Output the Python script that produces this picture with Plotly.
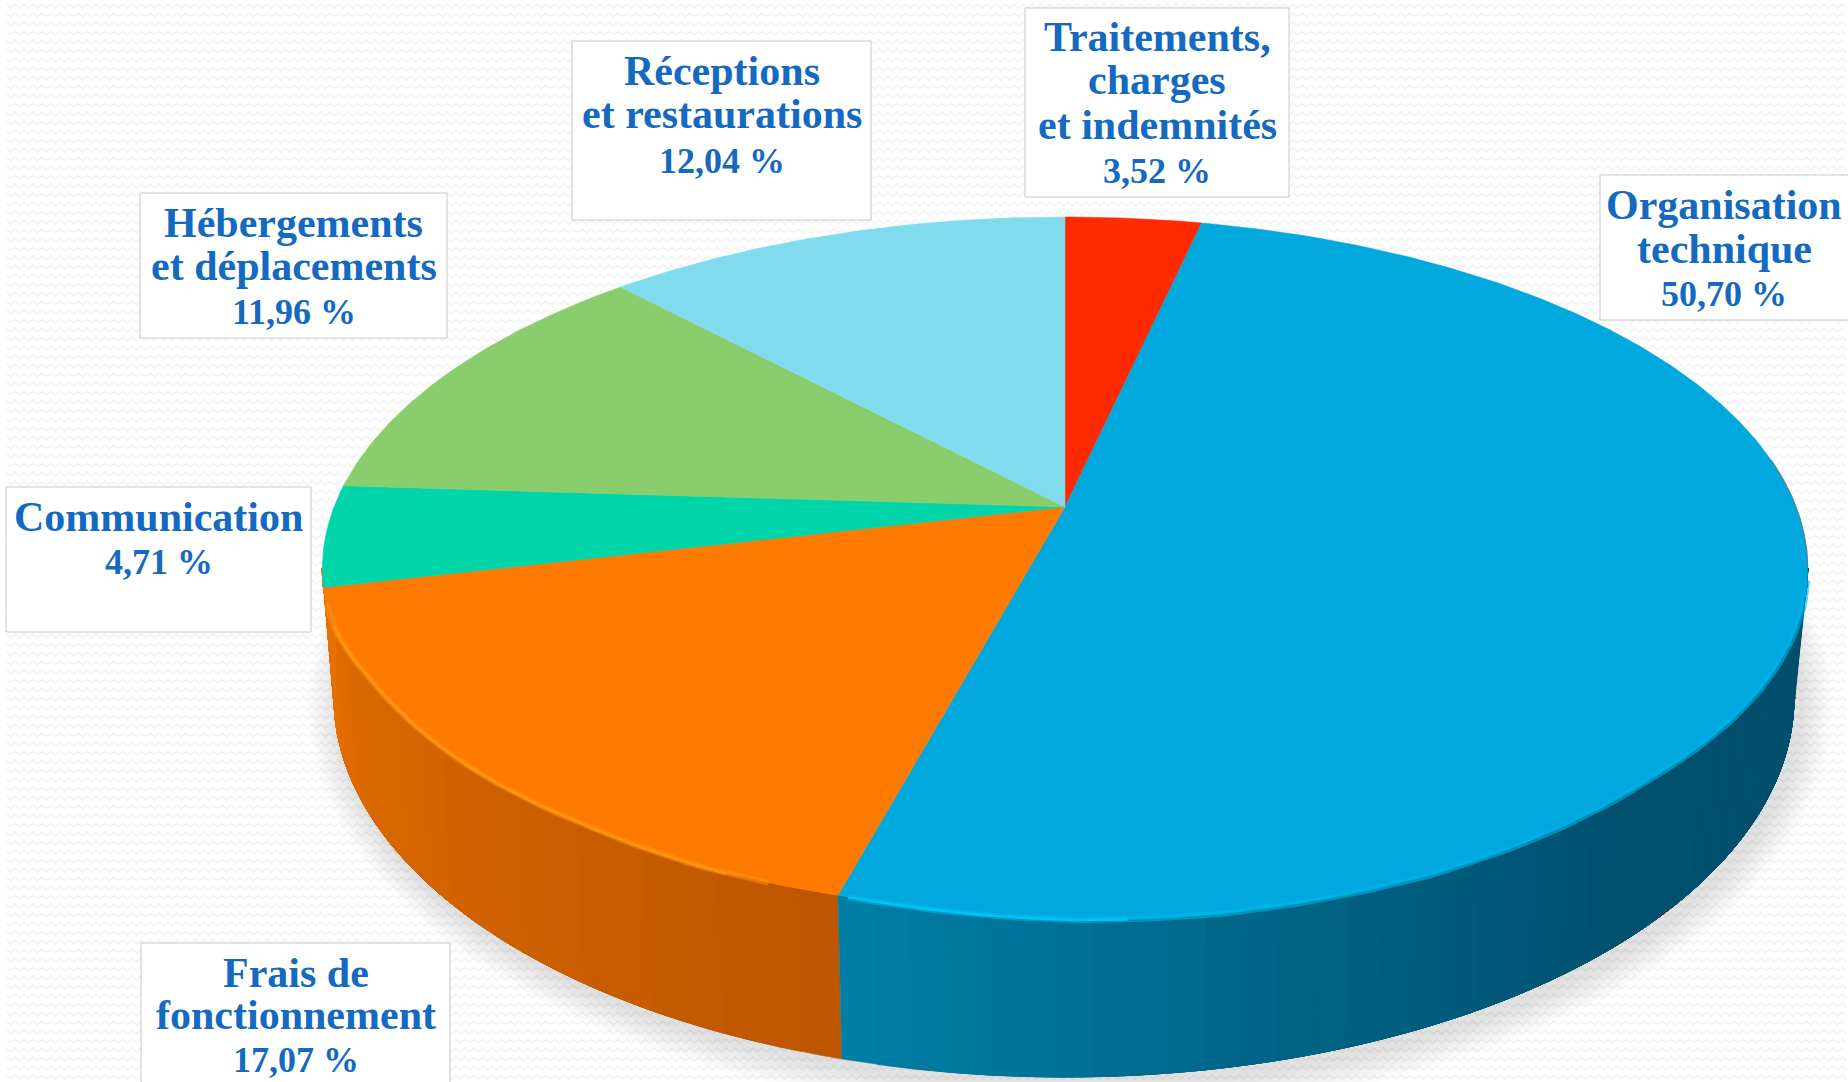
import numpy as np
import plotly.graph_objects as go

# ---- data (clockwise from 12 o'clock) ----
categories = ["Traitements, charges et indemnités", "Organisation technique", "Frais de fonctionnement",
              "Communication", "Hébergements et déplacements", "Réceptions et restaurations"]
values = [3.52, 50.70, 17.07, 4.71, 11.96, 12.04]
top_colors = ["#ff2a00", "#00a8de", "#ff7a00", "#00d5aa", "#8acd6c", "#80dcec"]
label_lines = [["Traitements,", "charges", "et indemnités"], ["Organisation", "technique"], ["Frais de", "fonctionnement"],
               ["Communication"], ["Hébergements", "et déplacements"], ["Réceptions", "et restaurations"]]
label_boxes = [(1025, 8, 1289, 197), (1600, 175, 1850, 320), (141, 943, 450, 1090),
               (6, 487, 311, 632), (140, 193, 447, 338), (572, 41, 871, 220)]
label_centres = [[37, 80, 125, 171], [205, 249, 294], [973, 1015, 1060], [517, 562], [223, 266, 312], [71, 114, 161]]

# ---- projection of the disc ----
CX, CY, A, B, P = 1065.0, 507.0, 341.4, 731.0, 0.177
BX, BY, BRX, BRY = 1064.0, 697.0, 730.0, 380.0
RIM_T = [100, 118, 135, 155, 170, 180, 195, 204, 214, 226, 240, 250, 260]
RIM_DY = [0, -3, -7, -1, 0, -2, -9, -9, -13, -13, -15, -5, 0]


def rim(t):
    t = np.asarray(t, float)
    r = np.radians(t)
    d = 1 + P * np.cos(r)
    x = CX + B * np.sin(r) / d + 4 * np.exp(-((t - 195) / 12) ** 2)
    return x, CY - A * np.cos(r) / d + np.interp(t, RIM_T, RIM_DY)


def base(t):
    x, y = rim(t)
    xb = BX + (x - BX) * BRX / 743.0
    yb = BY + BRY * np.sqrt(np.clip(1 - ((xb - BX) / BRX) ** 2, 0, 1))
    return xb, np.maximum(yb, y)


def lerp_color(stops, t):
    ts = [s[0] for s in stops]
    return "rgb({},{},{})".format(*[int(round(np.interp(t, ts, [s[1][i] for s in stops]))) for i in range(3)])


fig = go.Figure()


def poly(x, y, color, lw=0.0):
    fig.add_trace(go.Scatter(x=list(x), y=list(y), mode="lines", fill="toself", fillcolor=color,
                             line=dict(color=color, width=lw), hoverinfo="skip", showlegend=False))


# background texture
zx, zy = [], []
for row in np.arange(6, 1082, 9):
    xs = np.arange(6, 1850, 4.5)
    zx += list(xs) + [None]
    zy += [row + (2 if i % 2 else -2) for i in range(len(xs))] + [None]
fig.add_trace(go.Scatter(x=zx, y=zy, mode="lines", line=dict(color="#f5f5f5", width=2),
                         hoverinfo="skip", showlegend=False))

# soft drop shadow
ang = np.radians(np.linspace(0, 360, 181))
for k in range(10, 0, -1):
    poly(BX + 6 + (BRX + 3.2 * k) * np.cos(ang), BY + 8 + (BRY + 3.2 * k) * np.sin(ang), "rgba(0,0,0,0.013)")

# slice boundaries in degrees
edges = np.concatenate([[0], np.cumsum(values)]) * 3.6

# side wall: each strip runs to the far end of its wall and is overpainted by the next, so no seams show
BLUE_SIDE = [(100, (0, 78, 108)), (140, (0, 80, 110)), (165, (0, 98, 132)), (195.2, (0, 126, 165))]
ORANGE_SIDE = [(195.2, (190, 86, 0)), (225, (208, 98, 0)), (260, (232, 112, 0))]

cuts = np.linspace(edges[2], 260, 24)
for c0 in cuts[:-1]:
    th = np.linspace(c0, 260, 40)
    xt, yt = rim(th)
    xb, yb = base(th)
    poly(np.r_[xt, xb[::-1]], np.r_[yt, yb[::-1]], lerp_color(ORANGE_SIDE, c0), 0.6)
cuts = np.linspace(100, edges[2], 40)
for c1 in cuts[::-1][:-1]:
    th = np.linspace(100, c1, 60)
    xt, yt = rim(th)
    xb, yb = base(th)
    poly(np.r_[xt, xb[::-1]], np.r_[yt, yb[::-1]], lerp_color(BLUE_SIDE, c1), 0.6)

# left and right silhouettes of the wall from rim to base
for t, stops in [(100, BLUE_SIDE), (260, ORANGE_SIDE)]:
    xt, yt = rim(t)
    xb, yb = base(t)
    poly([xt, xb, xb], [yt, yb, yt], lerp_color(stops, t), 1.0)

# top face
for i, col in enumerate(top_colors):
    th = np.linspace(edges[i], edges[i + 1], max(int(values[i] * 6), 16))
    x, y = rim(th)
    poly(np.r_[CX, x, CX], np.r_[CY, y, CY], col, 0.5)

# rim lights: a soft wide stroke under a thin bright one
for a0, a1, col, w in [(200, 254, "rgba(255,150,20,0.45)", 6), (203, 250, "#ff9412", 2.5),
                       (160, 194.5, "rgba(0,190,240,0.5)", 6), (176, 194.5, "#00c4f4", 2.5),
                       (102, 160, "rgba(0,178,232,0.6)", 6), (82, 100, "#3f87a6", 1.2)]:
    th = np.linspace(a0, a1, 50)
    x, y = rim(th)
    fig.add_trace(go.Scatter(x=x, y=y, mode="lines", line=dict(color=col, width=w),
                             hoverinfo="skip", showlegend=False))

# labels
shapes, annotations = [], []
TEXT = "#1469c0"
for cat_lines, val, box, ys in zip(label_lines, values, label_boxes, label_centres):
    shapes.append(dict(type="rect", xref="x", yref="y", x0=box[0], y0=box[1], x1=box[2], y1=box[3],
                       fillcolor="white", line=dict(color="#c8c8c8", width=1), layer="above"))
    pct = f"{val:.2f}".replace(".", ",") + " %"
    cx = (box[0] + min(box[2], 1848)) / 2
    for n, (line, yc) in enumerate(zip(cat_lines + [pct], ys)):
        size = 36 if n == len(cat_lines) else 42
        annotations.append(dict(x=cx, y=yc, xref="x", yref="y", text=f"<b>{line}</b>", showarrow=False,
                                xanchor="center", yanchor="middle",
                                font=dict(family="Liberation Serif", size=size, color=TEXT)))

fig.update_layout(width=1848, height=1082, margin=dict(l=0, r=0, t=0, b=0), autosize=False,
                  paper_bgcolor="white", plot_bgcolor="white", showlegend=False,
                  xaxis=dict(range=[0, 1848], visible=False, fixedrange=True),
                  yaxis=dict(range=[1082, 0], visible=False, fixedrange=True),
                  shapes=shapes, annotations=annotations)
fig.write_html("out.html", post_script="document.body.style.margin='0';document.body.style.overflow='hidden';",
               config={"displayModeBar": False})
